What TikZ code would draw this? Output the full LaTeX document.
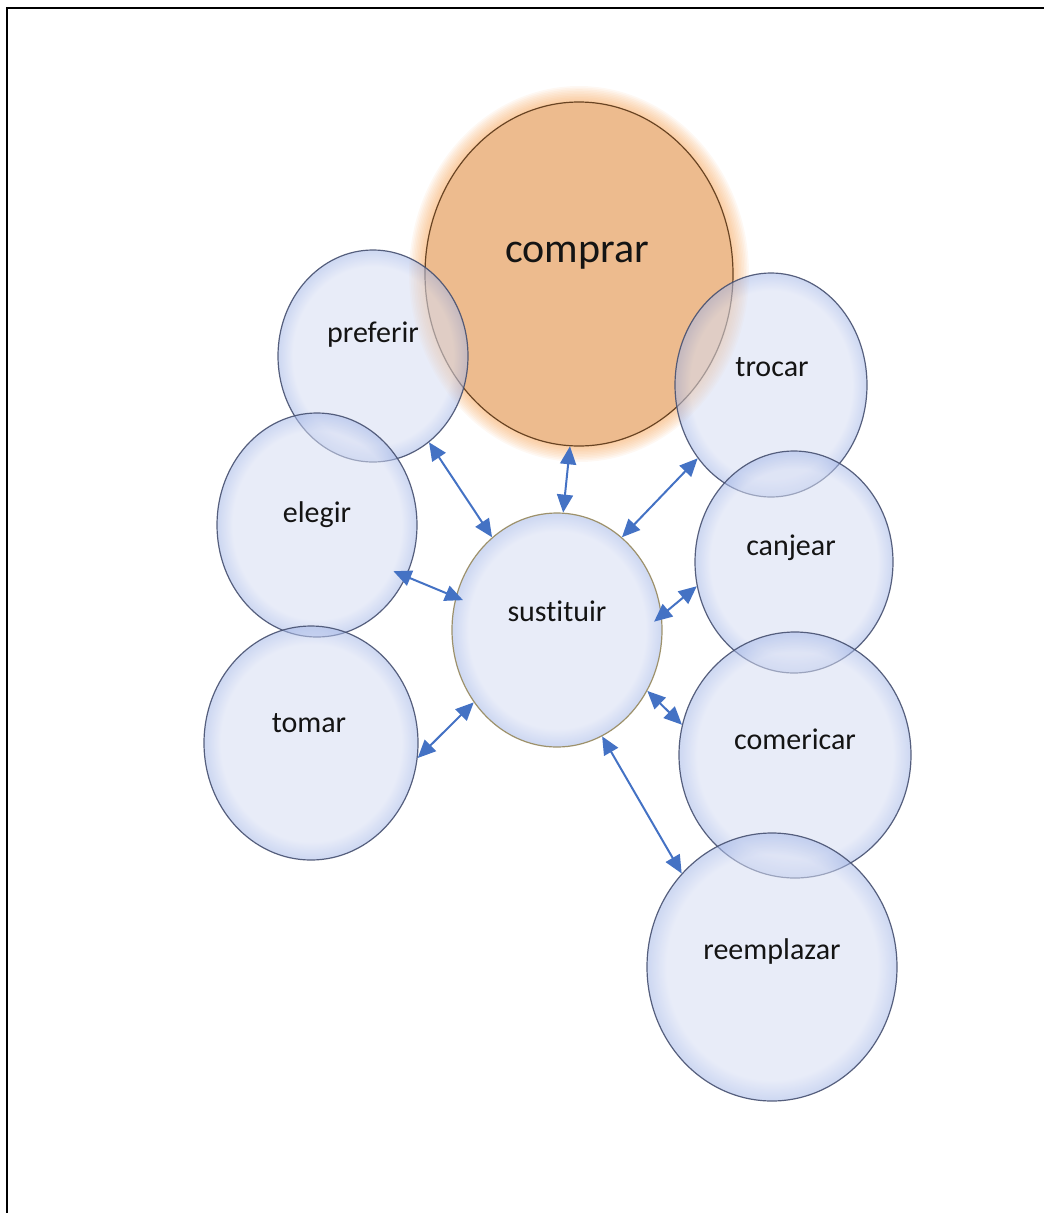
\documentclass[tikz,border=0pt]{standalone}
\usepackage{fontspec}
\setmainfont{Carlito}[Ligatures=CommonOff]
\usetikzlibrary{shapes.geometric,arrows.meta,backgrounds}

\definecolor{bubblefill}{RGB}{214,221,243}
\definecolor{bubblerim}{RGB}{168,186,232}
\definecolor{bubbleline}{RGB}{70,80,112}
\definecolor{hubline}{RGB}{150,136,92}
\definecolor{buyfill}{RGB}{237,187,142}
\definecolor{buyline}{RGB}{105,68,35}
\definecolor{buyglow}{RGB}{246,162,84}
\definecolor{linkblue}{RGB}{68,114,196}

\pgfdeclareradialshading{bubbleshade}{\pgfpoint{0bp}{0bp}}{color(0bp)=(bubblefill); color(21bp)=(bubblefill); color(24.6bp)=(bubblerim); color(50bp)=(bubblerim)}

\tikzset{
  bubble/.style={ellipse, inner sep=0pt, draw=bubbleline, line width=1.2pt,
    shading=bubbleshade, fill opacity=0.55, draw opacity=0.9},
  hub/.style={bubble, draw=hubline},
  buy/.style={ellipse, inner sep=0pt, draw=buyline, line width=1.2pt, fill=buyfill},
  word/.style={font=\fontsize{30}{36}\selectfont, text=black!92, inner sep=0pt,
    text height=0.7em, text depth=0.2em},
  link/.style={linkblue, line width=2pt,
    {Triangle[length=18pt,width=16pt]}-{Triangle[length=18pt,width=16pt]}},
}

\begin{document}
\begin{tikzpicture}[x=1pt,y=-1pt]
  \useasboundingbox (0,0) rectangle (1044,1213);
  \clip (0,0) rectangle (1044,1213);
  \draw[line width=2pt] (7,1240) |- (1070,8);

  % the word to replace
  \node[buy, minimum width=308pt, minimum height=344pt] (comprar) at (579,274) {};
  \begin{scope}[on background layer]
    \foreach \g in {1,...,10}
      \fill[buyglow, opacity=0.07] (comprar.center)
        ellipse [x radius=154pt+1.6pt*\g, y radius=172pt+1.6pt*\g];
  \end{scope}
  \node[word, font=\fontsize{42}{50}\selectfont] (comprar-text) at (577,260) {comprar};

  % synonyms
  \foreach \name/\x/\y/\rx/\ry/\tx/\ty in {
      preferir/373/356/95/106/373/340,
      elegir/317/525/100/112/317/520,
      tomar/311/743/107/117/309/730,
      trocar/771/385/96/112/772/374,
      canjear/794/562/99/111/791/553,
      comericar/795/755/116/123/795/747,
      reemplazar/772/967/125/134/772/957}{
    \node[bubble, minimum width=2pt*\rx, minimum height=2pt*\ry] (\name) at (\x,\y) {};
    \node[word] (\name-text) at (\tx,\ty) {\name};
  }

  \node[hub, minimum width=210pt, minimum height=234pt] (sustituir) at (557,630) {};
  \node[word] (sustituir-text) at (557,619) {sustituir};

  \draw[link] (preferir.-57) -- (sustituir.125);
  \draw[link] (comprar.267) -- (sustituir.87);
  \draw[link] (trocar.225) -- (sustituir.55);
  \draw[link, shorten <=-14pt, shorten >=-8pt] (elegir.-30) -- (sustituir.162);
  \draw[link, shorten >=-10pt] (canjear.194) -- (sustituir.8);
  \draw[link] (tomar.-8) -- (sustituir.221);
  \draw[link] (comericar.165) -- (sustituir.-34);
  \draw[link] (reemplazar.134) -- (sustituir.-67);
\end{tikzpicture}
\end{document}
